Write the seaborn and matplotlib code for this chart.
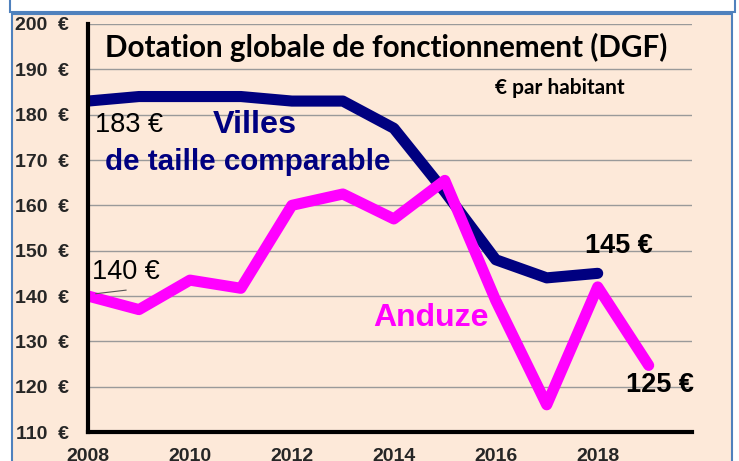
import numpy as np
import pandas as pd
import matplotlib
matplotlib.use("Agg")
import matplotlib.pyplot as plt
import seaborn as sns
from matplotlib.patches import Rectangle

# données
annees_villes = [2008, 2009, 2010, 2011, 2012, 2013, 2014, 2015, 2016, 2017, 2018]
villes = [183, 184, 184, 184, 183, 183, 177, 163, 148, 144, 145]
annees_anduze = [2008, 2009, 2010, 2011, 2012, 2013, 2014, 2015, 2016, 2017, 2018, 2019]
anduze = [140, 137, 143.5, 141.7, 160, 162.5, 157, 165.5, 139, 116, 142, 124.7]
y_ticks = [110, 120, 130, 140, 150, 160, 170, 180, 190, 200]
x_ticks = [2008, 2010, 2012, 2014, 2016, 2018]

df = pd.concat([
    pd.DataFrame({"annee": annees_villes, "dgf": villes, "serie": "Villes"}),
    pd.DataFrame({"annee": annees_anduze, "dgf": anduze, "serie": "Anduze"}),
])

sns.set_style("white")
plt.rcParams["font.family"] = ["Liberation Sans", "DejaVu Sans"]

fig = plt.figure(figsize=(7.39, 4.61), dpi=100)
fig.patch.set_facecolor("white")

# cadres
fig.patches.append(Rectangle((10 / 739, 1 - 12 / 461), 725 / 739, 0.05,
                             transform=fig.transFigure, facecolor="white",
                             edgecolor="#4F81BD", lw=1.5, zorder=-2))
fig.patches.append(Rectangle((12 / 739, -0.02), 720 / 739, 1 - 14 / 461 + 0.02,
                             transform=fig.transFigure, facecolor="#FDE9D9",
                             edgecolor="#4F81BD", lw=1.5, zorder=-2))

ax = fig.add_axes([88 / 739, 1 - 432 / 461, 604 / 739, 408 / 461])
ax.set_facecolor("none")

sns.lineplot(data=df, x="annee", y="dgf", hue="serie",
             palette={"Villes": "#000080", "Anduze": "#FF00FF"},
             linewidth=8, legend=False, ax=ax,
             solid_capstyle="round", solid_joinstyle="round")

ax.set_xlim(2008, 2019.85)
ax.set_ylim(110, 200)
ax.set_xticks(x_ticks)
ax.set_yticks(y_ticks)
ax.set_yticklabels([f"{v}  €" for v in y_ticks])
ax.set_xlabel("")
ax.set_ylabel("")
ax.yaxis.grid(True, color="#9a9a9a", lw=1)
ax.set_axisbelow(True)
for s in ["top", "right"]:
    ax.spines[s].set_visible(False)
for s in ["left", "bottom"]:
    ax.spines[s].set_color("black")
    ax.spines[s].set_linewidth(3)
ax.tick_params(axis="both", direction="inout", length=7, width=2.5, color="black",
               labelsize=14)
ax.tick_params(axis="y", pad=10)
ax.tick_params(axis="x", pad=8)
for lab in ax.get_xticklabels() + ax.get_yticklabels():
    lab.set_fontweight("bold")

# textes
ax.text(2008.33, 194.8, "Dotation globale de fonctionnement (DGF)",
        fontsize=21.3, family="Lato", fontweight="bold", color="black",
        va="center", ha="left")
ax.text(2015.98, 185.9, "€ par habitant", fontsize=15, family="Lato",
        fontweight="bold", color="black", va="center", ha="left")
ax.text(2008.13, 177.7, "183 €", fontsize=19.5, color="black", va="center")
ax.text(2010.45, 177.7, "Villes", fontsize=23.3, fontweight="bold",
        color="#000080", va="center")
ax.text(2008.33, 169.5, "de taille comparable", fontsize=21.3, fontweight="bold",
        color="#000080", va="center")
ax.text(2008.07, 145.3, "140 €", fontsize=19.5, color="black", va="center")
ax.plot([2008.15, 2008.75], [140.5, 141.3], color="#555555", lw=0.8)
ax.text(2013.6, 135.1, "Anduze", fontsize=23, fontweight="bold",
        color="#FF00FF", va="center")
ax.text(2017.75, 151, "145 €", fontsize=19.5, fontweight="bold",
        color="black", va="center")
ax.text(2018.55, 120.3, "125 €", fontsize=19.5, fontweight="bold",
        color="black", va="center")

fig.savefig("out.png", dpi=100)
